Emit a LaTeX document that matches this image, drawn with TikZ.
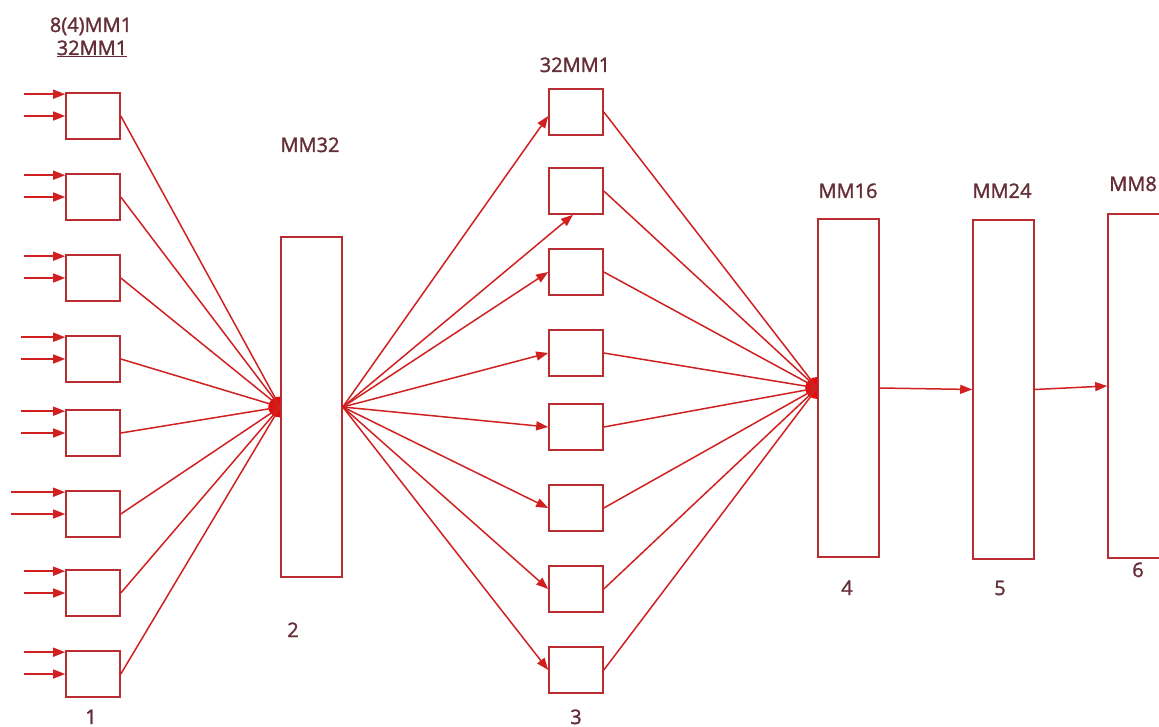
\documentclass[tikz,border=0pt]{standalone}
\usepackage{fontspec}
\setmainfont{Open Sans}
\newfontfamily\lblfont{Open Sans}[RawFeature={embolden=1.5}]
\usetikzlibrary{arrows.meta,backgrounds,calc}
\definecolor{ln}{RGB}{208,32,32}
\definecolor{bx}{RGB}{185,45,50}
\definecolor{tx}{RGB}{100,45,55}
\definecolor{dot}{RGB}{230,10,10}
\begin{document}
\begin{tikzpicture}[x=1pt,y=-1pt,
  small/.style={draw=bx, line width=1.6pt, fill=white, minimum width=54pt, minimum height=46pt, inner sep=0pt},
  tall/.style={draw=bx, line width=1.6pt, fill=white, minimum width=61pt, inner sep=0pt},
  lbl/.style={text=tx, font=\lblfont\fontsize{20}{24}\selectfont, anchor=base, inner sep=0pt},
  conn/.style={draw=ln, line width=1.5pt},
  arr/.style={conn, -{Triangle[length=12pt,width=9pt]}}]
\useasboundingbox (0,0) rectangle (1159,727);
\clip (0,0) rectangle (1159,727);
% left column
\foreach \i/\y in {1/116,2/197,3/278,4/359,5/433,6/514,7/593,8/674}
  \node[small] (L\i) at (93,\y) {};
\foreach \i/\d in {1/41,2/41,3/41,4/44,5/44,6/54,7/41,8/41} {
  \coordinate (ia\i) at ([xshift=-\d pt, yshift=-2pt]L\i.north west);
  \coordinate (ib\i) at ([xshift=-\d pt]L\i.west);
  \draw[arr] (ia\i) -- (ia\i -| L\i.west);
  \draw[arr] (ib\i) -- (L\i.west);
}
% big box 2
\node[tall, minimum height=340pt] (M2) at (311.5,407) {};
\begin{scope}[on background layer]
  \fill[dot] (M2.west) ellipse[x radius=12, y radius=10.5];
\end{scope}
\foreach \i in {1,...,8} \draw[conn] (L\i.east) -- (M2.west);
% middle column
\foreach \i/\y in {1/112,2/191,3/272,4/353,5/427,6/508,7/589,8/670}
  \node[small] (B\i) at (576,\y) {};
\draw[arr] (M2.east) -- ([yshift=-4pt]B1.west);
\draw[arr] (M2.east) -- ([xshift=-3pt]B2.south);
\foreach \i in {3,...,8} \draw[arr] (M2.east) -- (B\i.west);
% box 4
\node[tall, minimum height=338pt] (M4) at (848.5,388) {};
\begin{scope}[on background layer]
  \fill[dot] (M4.west) ellipse[x radius=12, y radius=11];
\end{scope}
\foreach \i in {1,...,8} \draw[conn] (B\i.east) -- (M4.west);
% boxes 5 and 6
\node[tall, minimum height=339pt] (M5) at (1003.5,389.5) {};
\node[tall, minimum height=344pt] (M6) at (1138.5,386) {};
\draw[arr] (M4.east) -- (M5.west);
\draw[arr] (M5.east) -- (M6.west);
% labels
\node[lbl] (t1) at (91,32) {8(4)MM1};
\node[lbl] (t2) at (92,55) {\underline{32MM1}};
\node[lbl] (t3) at (310,152) {MM32};
\node[lbl] (t4) at (575,72) {32MM1};
\node[lbl] (t5) at (848,198) {MM16};
\node[lbl] (t6) at (1002,198) {MM24};
\node[lbl, anchor=base east] (t7) at (1157,191) {MM8};
\node[lbl] (n1) at (91,724) {1};
\node[lbl] (n2) at (293,637) {2};
\node[lbl] (n3) at (576,724) {3};
\node[lbl] (n4) at (847,595) {4};
\node[lbl] (n5) at (1000,595) {5};
\node[lbl] (n6) at (1138,577) {6};
\end{tikzpicture}
\end{document}
